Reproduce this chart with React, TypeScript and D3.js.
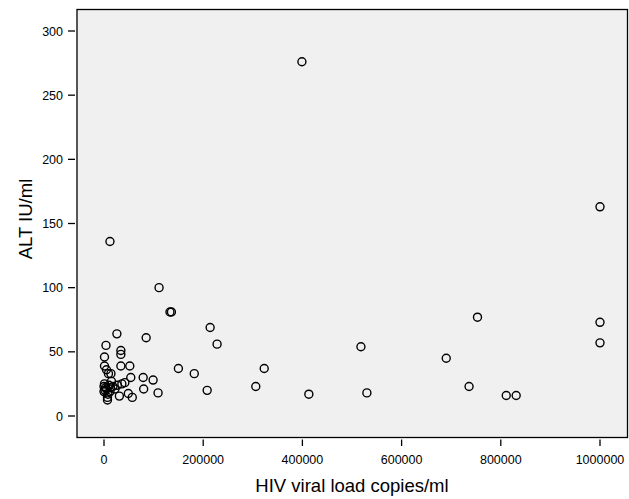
import React from "react";
import { scaleLinear } from "d3";

const W = 629;
const H = 499;

// HIV viral load (copies/ml) vs ALT (IU/ml)
const viralLoad = [
  399000, 1000000, 413000, 518000, 530000, 690000, 753000, 736000, 811000, 831000,
  1000000, 1000000, 133000, 136000, 214000, 228000, 323000, 306000, 208000, 182000,
  150000, 85000, 26000, 12000, 111000,
  4000, 1000, 34000, 34000, 1000, 34000, 52000, 5000, 9000, 14000,
  54000, 79000, 99000, 42000, 36000, 27000, 1000, 0, 80000, 109000,
  49000, 57000, 31000, 7000, 7000, 22000, 5000, 12000, 0, 15000,
  3000, 10000, 18000, 8000, 2000, 13000,
];
const alt = [
  276, 163, 17, 54, 18, 45, 77, 23, 16, 16,
  73, 57, 81, 81, 69, 56, 37, 23, 20, 33,
  37, 61, 64, 136, 100,
  55, 46, 51, 48, 39, 39, 39, 36, 33, 33,
  30, 30, 28, 26, 25, 24, 25, 23, 21, 18,
  17.5, 14.5, 15.5, 12.5, 14.5, 21, 21, 19, 19, 27,
  22, 24, 23, 17, 20, 22,
];

const xTicks = [0, 200000, 400000, 600000, 800000, 1000000];
const yTicks = [0, 50, 100, 150, 200, 250, 300];

const frame = { left: 77, right: 627.5, top: 9.5, bottom: 437.5 };

const x = scaleLinear().domain([0, 1000000]).range([104, 600]);
const y = scaleLinear().domain([0, 300]).range([416, 31]);

const font = "Arial, 'Liberation Sans', Helvetica, sans-serif";

export default function App() {
  return (
    <svg
      width={W}
      height={H}
      style={{ position: "absolute", left: 0, top: 0, background: "#fff" }}
      fontFamily={font}
    >
      <rect
        x={frame.left}
        y={frame.top}
        width={frame.right - frame.left}
        height={frame.bottom - frame.top}
        fill="#f0f0f0"
        stroke="#000"
        strokeWidth={1.3}
      />

      {/* y axis ticks, detached from the frame like SPSS does it */}
      {yTicks.map((t) => (
        <g key={"y" + t}>
          <line x1={68} x2={75} y1={y(t)} y2={y(t)} stroke="#000" strokeWidth={1.3} />
          <text x={63} y={y(t) + 4.5} fontSize={12.5} textAnchor="end" fill="#000">
            {t}
          </text>
        </g>
      ))}

      {xTicks.map((t) => (
        <g key={"x" + t}>
          <line x1={x(t)} x2={x(t)} y1={439.5} y2={446} stroke="#000" strokeWidth={1.3} />
          <text x={x(t)} y={464} fontSize={12.5} textAnchor="middle" fill="#000">
            {t}
          </text>
        </g>
      ))}

      {viralLoad.map((v, i) => (
        <circle
          key={i}
          cx={x(v)}
          cy={y(alt[i])}
          r={4}
          fill="none"
          stroke="#000"
          strokeWidth={1.4}
        />
      ))}

      <text x={352} y={491.5} fontSize={18.5} textAnchor="middle" fill="#000">
        HIV viral load copies/ml
      </text>
      <text
        transform="translate(31.5,219) rotate(-90)"
        fontSize={18.5}
        textAnchor="middle"
        fill="#000"
      >
        ALT IU/ml
      </text>
    </svg>
  );
}
